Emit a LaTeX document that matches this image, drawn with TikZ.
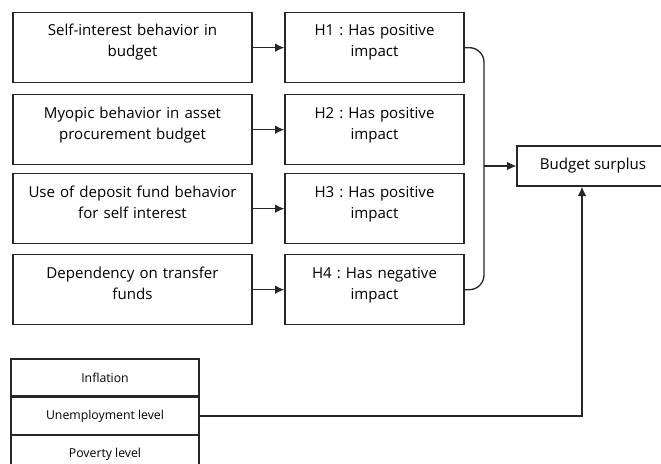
\documentclass[tikz,border=0pt]{standalone}
\usepackage{fontspec}
\setmainfont{Open Sans}
\usetikzlibrary{arrows.meta,positioning}

\begin{document}
\begin{tikzpicture}[x=0.75pt,y=-0.75pt,
  font=\fontsize{11.3pt}{15.75pt}\selectfont\frenchspacing,
  causebox/.style={draw=black!85, line width=1pt, anchor=north, align=center,
    inner xsep=0pt, inner ysep=0pt, text height=17.5pt, text depth=35pt},
  leftbox/.style={causebox, text width=179.25pt},
  hypbox/.style={causebox, text width=134.25pt},
  ctrlbox/.style={draw=black!85, line width=1pt, minimum width=141pt,
    minimum height=27.75pt, inner sep=0pt, font=\fontsize{9.2pt}{12pt}\selectfont},
  link/.style={draw=black!85, line width=1pt, -{Latex[length=7pt,width=6.5pt]}},
  bracket/.style={draw=black!85, line width=1pt, rounded corners=11pt}]

\useasboundingbox (0,0) rectangle (661,464);

% -- behaviour boxes (left column)
\node[leftbox] (selfint) at (132.5,12) {Self-interest behavior in\\budget};
\node[leftbox] (myopic) at (132.5,94) {Myopic behavior in asset\\procurement budget};
\node[leftbox] (deposit) at (132.5,173) {Use of deposit fund behavior\\for self interest};
\node[leftbox] (transfer) at (132.5,254) {Dependency on transfer\\funds};

% -- hypotheses (middle column)
\node[hypbox] (hone) at (374.5,12) {H1 : Has positive\\impact};
\node[hypbox] (htwo) at (374.5,94) {H2 : Has positive\\impact};
\node[hypbox] (hthree) at (374.5,173) {H3 : Has positive\\impact};
\node[hypbox] (hfour) at (374.5,254) {H4 : Has negative\\impact};

% -- outcome
\node[draw=black!85, line width=1pt, minimum width=114pt, minimum height=30pt,
  inner sep=0pt] (surplus) at (593,166) {Budget surplus};

% -- control variables
\node[ctrlbox] (inflation) at (105,377.5) {Inflation};
\node[ctrlbox, below=0pt of inflation] (unemp) {Unemployment level};
\node[ctrlbox, below=0pt of unemp] (poverty) {Poverty level};

% -- arrows
\draw[link] (selfint) -- (hone);
\draw[link] (myopic) -- (htwo);
\draw[link] (deposit) -- (hthree);
\draw[link] (transfer) -- (hfour);

\coordinate (join) at (484,166);
\draw[bracket] (hone.east) -| (join) |- (hfour.east);
\draw[link] (join) -- (surplus);

\draw[link] (unemp.east) -| ([xshift=-8.25pt]surplus.south);

\end{tikzpicture}
\end{document}
